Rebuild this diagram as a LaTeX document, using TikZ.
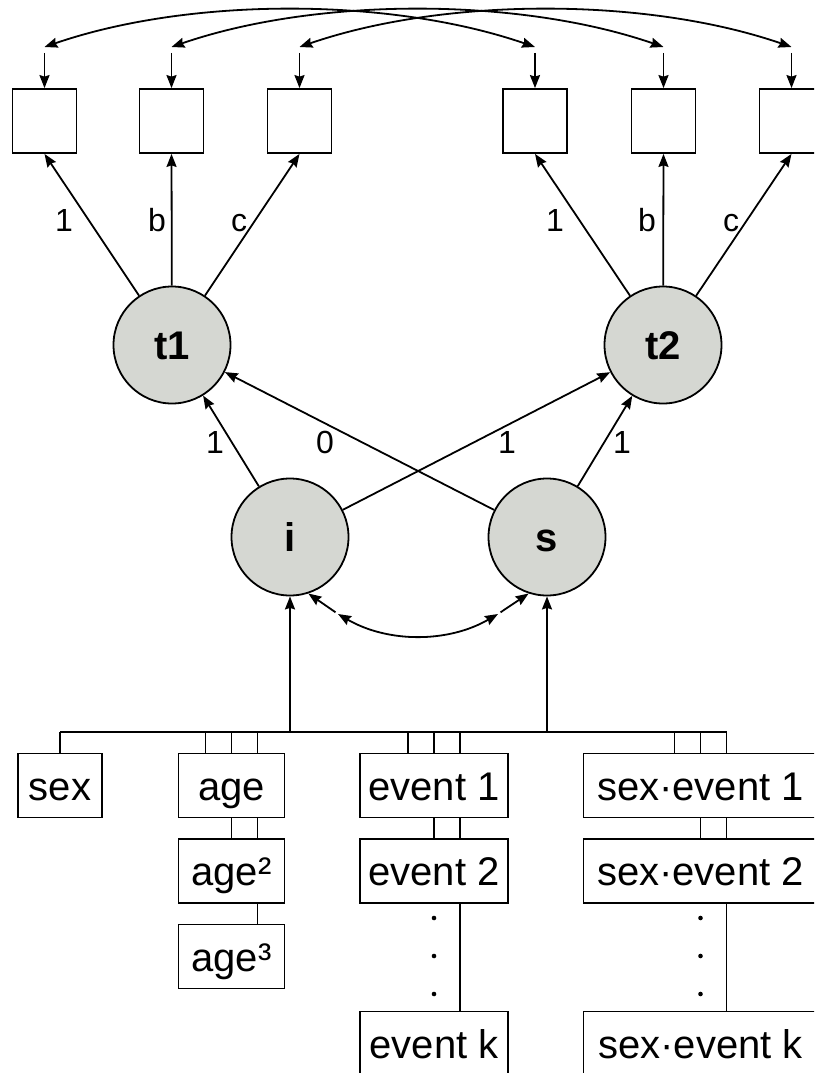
\documentclass[tikz,border=0pt]{standalone}
\usepackage{fontspec}
\setmainfont{Liberation Sans}
\usetikzlibrary{arrows.meta}
\definecolor{latfill}{RGB}{213,215,210}
\begin{document}
\begin{tikzpicture}[x=1pt,y=-1pt,line width=1.8pt,
  arr/.style={-{Stealth[length=13pt,width=10pt,inset=1.5pt]}},
  dbl/.style={{Stealth[length=13pt,width=10pt,inset=1.5pt]}-{Stealth[length=13pt,width=10pt,inset=1.5pt]}},
  ind/.style={draw, minimum width=64pt, minimum height=64pt, inner sep=0pt},
  lat/.style={draw, circle, fill=latfill, minimum size=117pt, inner sep=0pt,
    font=\fontsize{40}{40}\selectfont\bfseries, text height=29pt, text depth=0pt},
  cov/.style={draw, minimum height=64pt, inner sep=0pt,
    font=\fontsize{40}{40}\selectfont, text height=36pt, text depth=7pt},
  lbl/.style={inner sep=0pt, font=\fontsize{32}{32}\selectfont, text height=23pt, text depth=0pt}
]
\useasboundingbox (0,0) rectangle (814,1073);
\clip (0,0) rectangle (814,1073);

% indicator boxes
\node[ind] (b1) at (44.5,121) {};
\node[ind] (b2) at (171.5,121) {};
\node[ind] (b3) at (299.5,121) {};
\node[ind] (b4) at (535,121) {};
\node[ind] (b5) at (663.5,121) {};
\node[ind] (b6) at (791.5,121) {};

% residual points
\coordinate (e1) at (44.5,47);
\coordinate (e2) at (171.5,47);
\coordinate (e3) at (299.5,47);
\coordinate (e4) at (535,47);
\coordinate (e5) at (663.5,47);
\coordinate (e6) at (791.5,47);
\foreach \k in {1,...,6}
  \draw[arr] ([yshift=-6pt]e\k) -- (b\k.north);
\draw[dbl] (e1) .. controls +(145,-50) and +(-145,-50) .. (e4);
\draw[dbl] (e2) .. controls +(145,-50) and +(-145,-50) .. (e5);
\draw[dbl] (e3) .. controls +(145,-50) and +(-145,-50) .. (e6);

% latent variables
\node[lat] (t1) at (172,345) {t1};
\node[lat] (t2) at (663,345) {t2};
\node[lat] (i) at (290,537) {i};
\node[lat] (s) at (547,537) {s};

\draw[arr] (t1) -- (b1.south);
\draw[arr] (t1) -- (b2.south);
\draw[arr] (t1) -- (b3.south);
\draw[arr] (t2) -- (b4.south);
\draw[arr] (t2) -- (b5.south);
\draw[arr] (t2) -- (b6.south);

\node[lbl] (l1) at (64,220) {1};
\node[lbl] (l2) at (157,220) {b};
\node[lbl] (l3) at (239,220) {c};
\node[lbl] (l4) at (555,220) {1};
\node[lbl] (l5) at (647,220) {b};
\node[lbl] (l6) at (731,220) {c};

\draw[arr] (i) -- (t1);
\draw[arr] (s) -- (t1);
\draw[arr] (i) -- (t2);
\draw[arr] (s) -- (t2);

\node[lbl] (l7) at (215,441.5) {1};
\node[lbl] (l8) at (325,441.5) {0};
\node[lbl] (l9) at (507,441.5) {1};
\node[lbl] (l10) at (622,441.5) {1};

% covariance i <-> s
\coordinate (c1) at (338,614);
\coordinate (c2) at (498,614);
\draw[arr, shorten <=3pt] (c1) -- (i.-72);
\draw[arr, shorten <=3pt] (c2) -- (s.-108);
\draw[dbl] (c1) .. controls +(50,29) and +(-50,29) .. (c2);

% covariates
\node[cov, minimum width=84pt] (sex) at (60,785.5) {sex};
\node[cov, minimum width=106pt] (age) at (231.5,785.5) {age};
\node[cov, minimum width=106pt] (age2) at (231.5,871) {age²};
\node[cov, minimum width=106pt] (age3) at (231.5,956.5) {age³};
\node[cov, minimum width=148pt] (ev1) at (434,785.5) {event 1};
\node[cov, minimum width=148pt] (ev2) at (434,871) {event 2};
\node[cov, minimum width=148pt] (evk) at (434,1043.5) {event k};
\node[cov, minimum width=234pt] (se1) at (700.5,785.5) {sex·event 1};
\node[cov, minimum width=234pt] (se2) at (700.5,871) {sex·event 2};
\node[cov, minimum width=234pt] (sek) at (700.5,1043.5) {sex·event k};

% bus
\coordinate (busL) at (60,732);
\coordinate (busR) at (726.5,732);
\draw (busL) -- (busR);
\draw[arr] (i |- busL) -- (i);
\draw[arr] (s |- busL) -- (s);

\draw (sex.north) -- (sex.north |- busL);
\foreach \n in {age,ev1,se1}
  \foreach \dx in {-26,0,26}
    \draw ([xshift=\dx pt]\n.north) -- ++(0,-21);
\foreach \a/\b in {age/age2,ev1/ev2,se1/se2}
  \foreach \dx in {0,26}
    \draw ([xshift=\dx pt]\a.south) -- ([xshift=\dx pt]\b.north);
\draw ([xshift=26pt]age2.south) -- ([xshift=26pt]age3.north);
\draw ([xshift=26pt]ev2.south) -- ([xshift=26pt]evk.north);
\draw ([xshift=26pt]se2.south) -- ([xshift=26pt]sek.north);

% ellipsis dots
\foreach \yy in {918,956,994} {
  \fill (ev2.south |- 0,\yy) circle (2.3pt);
  \fill (se2.south |- 0,\yy) circle (2.3pt);
}
\end{tikzpicture}
\end{document}
